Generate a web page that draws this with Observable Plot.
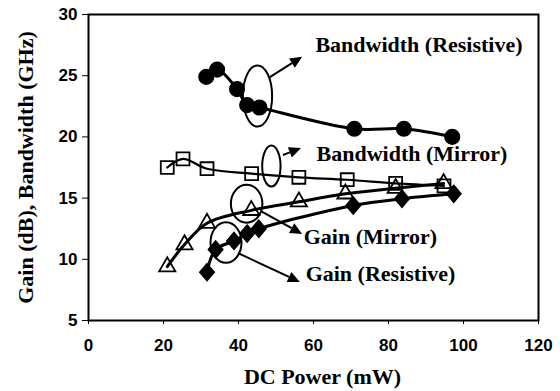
<!DOCTYPE html>
<html><head><meta charset="utf-8">
<script src="https://cdn.jsdelivr.net/npm/d3@7"></script>
<script src="https://cdn.jsdelivr.net/npm/@observablehq/plot@0.6"></script>
<style>body{margin:0;background:#fff}</style>
</head><body><div id="chart"></div>
<script>
// Series values (DC Power in mW, Gain in dB / Bandwidth in GHz)
const bwResX = [31.4, 34.3, 39.6, 42.3, 45.6, 70.9, 84.1, 97.0];
const bwResY = [24.9, 25.5, 23.9, 22.6, 22.4, 20.66, 20.66, 20.0];
const bwMirX = [21.0, 25.2, 31.6, 43.5, 56.1, 69.0, 81.9, 94.8];
const bwMirY = [17.5, 18.2, 17.4, 17.0, 16.7, 16.5, 16.2, 16.0];
const gainMirX = [21.0, 25.6, 31.6, 43.4, 56.1, 68.5, 81.9, 94.7];
const gainMirY = [9.4, 11.2, 12.95, 14.0, 14.7, 15.35, 15.8, 16.2];
const gainResX = [31.6, 33.9, 38.8, 42.3, 45.4, 70.6, 83.6, 97.4];
const gainResY = [8.95, 10.8, 11.5, 12.1, 12.5, 14.4, 14.95, 15.35];

// Tick labels
const xTicks = [0, 20, 40, 60, 80, 100, 120];
const yTicks = [5, 10, 15, 20, 25, 30];

// Annotation callouts (data coordinates)
const labels = ["Bandwidth (Resistive)", "Bandwidth (Mirror)", "Gain (Mirror)", "Gain (Resistive)"];
const labelX = [60.5, 60.8, 57.4, 57.9];
const labelY = [27.55, 18.64, 11.82, 8.84];
const ellipseCX = [45.2, 48.9, 42.3, 36.8];
const ellipseCY = [23.3, 17.58, 14.5, 11.33];
const ellipseRX = [3.9, 2.45, 4.2, 4.13];
const ellipseRY = [2.5, 1.67, 1.55, 1.65];
const arrowX1 = [48.5, 52.0, 46.1, 40.0];
const arrowY1 = [24.85, 18.48, 13.9, 10.47];
const arrowX2 = [57.1, 56.8, 57.1, 56.5];
const arrowY2 = [26.5, 19.05, 12.03, 8.1];

const toRows = (xs, ys) => xs.map((x, i) => ({x, y: ys[i]}));
const bwRes = toRows(bwResX, bwResY);
const bwMir = toRows(bwMirX, bwMirY);
const gainMir = toRows(gainMirX, gainMirY);
const gainRes = toRows(gainResX, gainResY);

const diamond = {
  draw(ctx, size) {
    const h = Math.sqrt(size / 2);
    ctx.moveTo(0, -h * 1.08);
    ctx.lineTo(h * 0.92, 0);
    ctx.lineTo(0, h * 1.08);
    ctx.lineTo(-h * 0.92, 0);
    ctx.closePath();
  }
};

function callouts(index, scales) {
  const {x, y} = scales;
  const g = d3.create("svg:g");
  ellipseCX.forEach((cx, i) => {
    const px = x(cx), py = y(ellipseCY[i]);
    g.append("ellipse")
      .attr("cx", px).attr("cy", py)
      .attr("rx", Math.abs(x(cx + ellipseRX[i]) - px))
      .attr("ry", Math.abs(y(ellipseCY[i] + ellipseRY[i]) - py))
      .attr("fill", "none").attr("stroke", "black").attr("stroke-width", 2);
  });
  arrowX1.forEach((x1, i) => {
    const ax = x(x1), ay = y(arrowY1[i]), bx = x(arrowX2[i]), by = y(arrowY2[i]);
    const ang = Math.atan2(by - ay, bx - ax);
    const L = 12, W = 5.5;
    const cx = bx - L * Math.cos(ang), cy = by - L * Math.sin(ang);
    g.append("line").attr("x1", ax).attr("y1", ay).attr("x2", cx).attr("y2", cy)
      .attr("stroke", "black").attr("stroke-width", 2);
    g.append("path")
      .attr("d", `M${bx},${by}L${cx + W * Math.sin(ang)},${cy - W * Math.cos(ang)}L${cx - W * Math.sin(ang)},${cy + W * Math.cos(ang)}Z`)
      .attr("fill", "black");
  });
  return g.node();
}

const serif = "'Liberation Serif', 'Times New Roman', serif";

const chart = Plot.plot({
  width: 560,
  height: 391,
  marginLeft: 88,
  marginRight: 22,
  marginTop: 14,
  marginBottom: 71,
  style: {fontFamily: "'Liberation Sans', Arial, sans-serif", fontWeight: "bold", fontSize: "17px", background: "#fff", color: "#000"},
  x: {domain: [0, 120], ticks: xTicks, tickSize: 4, tickPadding: 14, label: null},
  y: {domain: [5, 30], ticks: yTicks, tickSize: 6, tickPadding: 5, label: null},
  marks: [
    Plot.frame({stroke: "black", strokeWidth: 2}),
    Plot.line(bwRes, {x: "x", y: "y", curve: "catmull-rom", stroke: "black", strokeWidth: 3}),
    Plot.line(bwMir, {x: "x", y: "y", curve: "catmull-rom", stroke: "black", strokeWidth: 2.2}),
    Plot.line(gainMir, {x: "x", y: "y", curve: "catmull-rom", stroke: "black", strokeWidth: 3}),
    Plot.line(gainRes, {x: "x", y: "y", curve: "catmull-rom", stroke: "black", strokeWidth: 3}),
    Plot.dot(bwRes, {x: "x", y: "y", r: 7.3, fill: "black", stroke: "black"}),
    Plot.dot(bwMir, {x: "x", y: "y", r: 7.3, symbol: "square", fill: "none", stroke: "black", strokeWidth: 1.8}),
    Plot.dot(gainMir, {x: "x", y: "y", r: 6, symbol: "triangle", fill: "none", stroke: "black", strokeWidth: 1.8}),
    Plot.dot(gainRes, {x: "x", y: "y", r: 6.3, symbol: diamond, fill: "black", stroke: "black"}),
    callouts,
    Plot.text(labels, {x: (d, i) => labelX[i], y: (d, i) => labelY[i], text: d => d, textAnchor: "start", fontSize: 22, fontWeight: "bold", fontFamily: serif, fill: "black"}),
    Plot.text(["DC Power (mW)"], {frameAnchor: "bottom", textAnchor: "middle", lineAnchor: "middle", dx: 9, dy: 56, text: d => d, fontSize: 22, fontWeight: "bold", fontFamily: serif, fill: "black"}),
    Plot.text(["Gain (dB), Bandwidth (GHz)"], {frameAnchor: "left", textAnchor: "middle", lineAnchor: "middle", dx: -63, dy: 0, rotate: -90, text: d => d, fontSize: 22, fontWeight: "bold", fontFamily: serif, fill: "black"})
  ]
});
document.getElementById("chart").append(chart);
</script>
</body></html>
